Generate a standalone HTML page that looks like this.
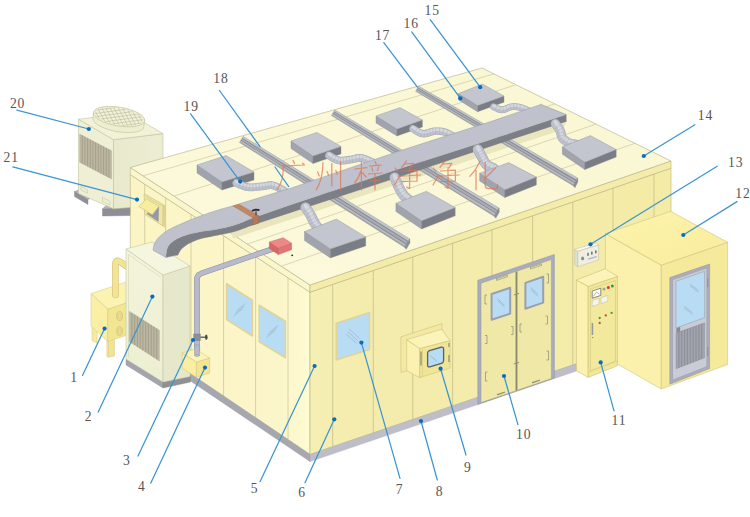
<!DOCTYPE html>
<html><head><meta charset="utf-8"><title>Clean room structure diagram</title>
<style>
html,body{margin:0;padding:0;background:#fff;}
body{width:750px;height:517px;overflow:hidden;font-family:"Liberation Serif",serif;}
svg{display:block;}
</style></head><body>
<svg width="750" height="517" viewBox="0 0 750 517">
<rect x="0" y="0" width="750" height="517" fill="#ffffff"/>
<defs>
<linearGradient id="gLW" x1="0" y1="0" x2="1" y2="0"><stop offset="0" stop-color="#fbf5c6"/><stop offset="0.85" stop-color="#fbf6ca"/><stop offset="1" stop-color="#fffbd2"/></linearGradient>
<linearGradient id="gRW" x1="0" y1="0" x2="1" y2="0"><stop offset="0" stop-color="#f6efb3"/><stop offset="0.15" stop-color="#f3ecad"/><stop offset="1" stop-color="#f4eba6"/></linearGradient>
<linearGradient id="gRoof" x1="0" y1="1" x2="1" y2="0"><stop offset="0" stop-color="#fcfadc"/><stop offset="1" stop-color="#f9f6d2"/></linearGradient>
<linearGradient id="gAT" x1="0" y1="0" x2="1" y2="1"><stop offset="0" stop-color="#fcf3ad"/><stop offset="1" stop-color="#f9ec9b"/></linearGradient>
<linearGradient id="gOUr" x1="0" y1="0" x2="1" y2="0"><stop offset="0" stop-color="#e8eacd"/><stop offset="1" stop-color="#ecedd2"/></linearGradient>
<linearGradient id="gCab" x1="0" y1="0" x2="0" y2="1"><stop offset="0" stop-color="#f3f4dc"/><stop offset="1" stop-color="#edefd2"/></linearGradient>
</defs>
<polygon points="74.5,191.5 88.0,199.5 88.0,204.5 74.5,196.5" fill="#8f9098" stroke="#80818a" stroke-width="0.4" stroke-linejoin="round" />
<polygon points="74.5,191.5 80.0,189.5 93.0,197.0 88.0,199.5" fill="#b3b4bc" stroke="#80818a" stroke-width="0.4" stroke-linejoin="round" />
<polygon points="102.5,209.0 131.0,207.0 131.0,215.5 102.5,216.0" fill="#8d8e96" stroke="#80818a" stroke-width="0.4" stroke-linejoin="round" />
<polygon points="102.5,209.0 106.0,205.5 131.0,204.0 131.0,207.0" fill="#b3b4bc" stroke="#80818a" stroke-width="0.4" stroke-linejoin="round" />
<polygon points="78.5,119.2 113.5,139.7 113.5,208.8 78.5,193.5" fill="#eeefd4" stroke="#c2c29c" stroke-width="0.6" stroke-linejoin="round" />
<polygon points="113.5,139.7 163.0,133.6 163.0,205.0 113.5,208.8" fill="url(#gOUr)" stroke="#c2c29c" stroke-width="0.6" stroke-linejoin="round" />
<polygon points="78.5,119.2 128.0,113.1 163.0,133.6 113.5,139.7" fill="#f1f2d8" stroke="#c2c29c" stroke-width="0.6" stroke-linejoin="round" />
<polygon points="79.6,134.0 111.6,150.8 111.6,179.0 79.6,162.2" fill="#bcb7a2" stroke="#b0ab94" stroke-width="0.4" stroke-linejoin="round" />
<line x1="82.3" y1="135.4" x2="82.3" y2="163.6" stroke="#a6a18b" stroke-width="1.0" />
<line x1="84.9" y1="136.8" x2="84.9" y2="165.0" stroke="#a6a18b" stroke-width="1.0" />
<line x1="87.6" y1="138.2" x2="87.6" y2="166.4" stroke="#a6a18b" stroke-width="1.0" />
<line x1="90.3" y1="139.6" x2="90.3" y2="167.8" stroke="#a6a18b" stroke-width="1.0" />
<line x1="92.9" y1="141.0" x2="92.9" y2="169.2" stroke="#a6a18b" stroke-width="1.0" />
<line x1="95.6" y1="142.4" x2="95.6" y2="170.6" stroke="#a6a18b" stroke-width="1.0" />
<line x1="98.3" y1="143.8" x2="98.3" y2="172.0" stroke="#a6a18b" stroke-width="1.0" />
<line x1="100.9" y1="145.2" x2="100.9" y2="173.4" stroke="#a6a18b" stroke-width="1.0" />
<line x1="103.6" y1="146.6" x2="103.6" y2="174.8" stroke="#a6a18b" stroke-width="1.0" />
<line x1="106.3" y1="148.0" x2="106.3" y2="176.2" stroke="#a6a18b" stroke-width="1.0" />
<line x1="108.9" y1="149.4" x2="108.9" y2="177.6" stroke="#a6a18b" stroke-width="1.0" />
<polygon points="81.0,186.5 87.5,189.7 87.5,193.2 81.0,190.0" fill="#eceed0" stroke="#c2c29c" stroke-width="0.5" stroke-linejoin="round" />
<polygon points="102.5,197.5 110.0,201.2 110.0,205.2 102.5,201.5" fill="#eceed0" stroke="#c2c29c" stroke-width="0.5" stroke-linejoin="round" />
<g transform="rotate(9.4 119 117)">
<path d="M93,116.6 L93.6,123.2 A26,9.4 0 0 0 145,124.2 L145,116.6 Z" fill="#eceed0" stroke="#c2c29c" stroke-width="0.6"/>
<ellipse cx="119" cy="116.6" rx="26" ry="9.4" fill="#f1f2d9" stroke="#c2c29c" stroke-width="0.7"/>
<clipPath id="cpDome"><ellipse cx="119" cy="116.6" rx="24.6" ry="8.4"/></clipPath>
<g clip-path="url(#cpDome)" stroke="#b4b493" stroke-width="0.5" fill="none">
<line x1="53.8" y1="104" x2="73.8" y2="130"/>
<line x1="58.4" y1="104" x2="78.4" y2="130"/>
<line x1="63.0" y1="104" x2="83.0" y2="130"/>
<line x1="67.6" y1="104" x2="87.6" y2="130"/>
<line x1="72.2" y1="104" x2="92.2" y2="130"/>
<line x1="76.8" y1="104" x2="96.8" y2="130"/>
<line x1="81.4" y1="104" x2="101.4" y2="130"/>
<line x1="86.0" y1="104" x2="106.0" y2="130"/>
<line x1="90.6" y1="104" x2="110.6" y2="130"/>
<line x1="95.2" y1="104" x2="115.2" y2="130"/>
<line x1="99.8" y1="104" x2="119.8" y2="130"/>
<line x1="104.4" y1="104" x2="124.4" y2="130"/>
<line x1="109.0" y1="104" x2="129.0" y2="130"/>
<line x1="113.6" y1="104" x2="133.6" y2="130"/>
<line x1="118.2" y1="104" x2="138.2" y2="130"/>
<line x1="122.8" y1="104" x2="142.8" y2="130"/>
<line x1="127.4" y1="104" x2="147.4" y2="130"/>
<line x1="132.0" y1="104" x2="152.0" y2="130"/>
<line x1="136.6" y1="104" x2="156.6" y2="130"/>
<line x1="141.2" y1="104" x2="161.2" y2="130"/>
<line x1="145.8" y1="104" x2="165.8" y2="130"/>
<line x1="150.4" y1="104" x2="170.4" y2="130"/>
<line x1="155.0" y1="104" x2="175.0" y2="130"/>
<line x1="159.6" y1="104" x2="179.6" y2="130"/>
<line x1="164.2" y1="104" x2="184.2" y2="130"/>
<line x1="90" y1="105.8" x2="148" y2="87.8"/>
<line x1="90" y1="109.1" x2="148" y2="91.1"/>
<line x1="90" y1="112.4" x2="148" y2="94.4"/>
<line x1="90" y1="115.7" x2="148" y2="97.7"/>
<line x1="90" y1="119.0" x2="148" y2="101.0"/>
<line x1="90" y1="122.3" x2="148" y2="104.3"/>
<line x1="90" y1="125.6" x2="148" y2="107.6"/>
<line x1="90" y1="128.9" x2="148" y2="110.9"/>
<line x1="90" y1="132.2" x2="148" y2="114.2"/>
<line x1="90" y1="135.5" x2="148" y2="117.5"/>
<line x1="90" y1="138.8" x2="148" y2="120.8"/>
<line x1="90" y1="142.1" x2="148" y2="124.1"/>
<line x1="90" y1="145.4" x2="148" y2="127.4"/>
</g>
</g>
<polygon points="130.3,174.7 310.0,292.2 310.0,454.4 130.3,333.1" fill="url(#gLW)" stroke="#b9b184" stroke-width="0.6" stroke-linejoin="round" />
<polygon points="310.0,292.2 671.0,168.2 671.0,331.7 310.0,454.4" fill="url(#gRW)" stroke="#b9b184" stroke-width="0.6" stroke-linejoin="round" />
<line x1="144.7" y1="184.1" x2="144.7" y2="342.8" stroke="#c9c08f" stroke-width="0.7" />
<line x1="165.6" y1="197.8" x2="165.6" y2="356.9" stroke="#c9c08f" stroke-width="0.7" />
<line x1="191.0" y1="214.4" x2="191.0" y2="374.1" stroke="#c9c08f" stroke-width="0.7" />
<line x1="223.6" y1="235.7" x2="223.6" y2="396.1" stroke="#c9c08f" stroke-width="0.7" />
<line x1="255.6" y1="256.6" x2="255.6" y2="417.7" stroke="#c9c08f" stroke-width="0.7" />
<line x1="288.0" y1="277.8" x2="288.0" y2="439.5" stroke="#c9c08f" stroke-width="0.7" />
<line x1="332.7" y1="284.4" x2="332.7" y2="446.7" stroke="#c3b984" stroke-width="0.7" />
<line x1="373.3" y1="270.5" x2="373.3" y2="432.9" stroke="#c3b984" stroke-width="0.7" />
<line x1="412.8" y1="256.9" x2="412.8" y2="419.4" stroke="#c3b984" stroke-width="0.7" />
<line x1="452.6" y1="243.2" x2="452.6" y2="405.9" stroke="#c3b984" stroke-width="0.7" />
<line x1="492.0" y1="229.7" x2="492.0" y2="392.5" stroke="#c3b984" stroke-width="0.7" />
<line x1="532.6" y1="215.7" x2="532.6" y2="378.7" stroke="#c3b984" stroke-width="0.7" />
<line x1="572.8" y1="201.9" x2="572.8" y2="365.0" stroke="#c3b984" stroke-width="0.7" />
<line x1="613.0" y1="188.1" x2="613.0" y2="351.4" stroke="#c3b984" stroke-width="0.7" />
<line x1="654.0" y1="174.0" x2="654.0" y2="337.4" stroke="#c3b984" stroke-width="0.7" />
<polygon points="186.0,370.7 310.0,454.4 310.0,461.6 186.0,377.9" fill="#a6a7af" stroke="#9a9ba4" stroke-width="0.4" stroke-linejoin="round" />
<polygon points="310.0,454.4 600.0,355.8 600.0,363.0 310.0,461.6" fill="#bdbec8" stroke="#a9aab4" stroke-width="0.4" stroke-linejoin="round" />
<polygon points="130.3,167.5 310.0,285.0 310.0,292.2 130.3,174.7" fill="#fbf7cd" stroke="#b9b184" stroke-width="0.6" stroke-linejoin="round" />
<polygon points="310.0,285.0 671.0,161.0 671.0,168.2 310.0,292.2" fill="#f4eca9" stroke="#b9b184" stroke-width="0.6" stroke-linejoin="round" />
<polygon points="130.3,167.5 482.0,68.0 671.0,161.0 310.0,285.0" fill="url(#gRoof)" stroke="#bdb78f" stroke-width="0.7" stroke-linejoin="round" />
<polygon points="92.0,326.5 97.0,329.5 97.0,343.0 92.0,340.5" fill="#f6eb9f" stroke="#d3c67c" stroke-width="0.5" stroke-linejoin="round" />
<polygon points="108.2,339.5 114.4,338.0 114.4,356.0 108.2,357.2" fill="#f1e592" stroke="#d3c67c" stroke-width="0.5" stroke-linejoin="round" />
<polygon points="106.8,338.6 108.2,339.5 108.2,357.2 106.8,356.4" fill="#f7ec9f" stroke="#d3c67c" stroke-width="0.4" stroke-linejoin="round" />
<polygon points="91.0,293.6 107.8,309.0 107.8,341.5 91.0,326.1" fill="#faefa4" stroke="#d3c67c" stroke-width="0.5" stroke-linejoin="round" />
<polygon points="107.8,309.0 144.8,296.8 144.8,329.3 107.8,341.5" fill="#f3e693" stroke="#d3c67c" stroke-width="0.5" stroke-linejoin="round" />
<polygon points="91.0,293.6 128.0,281.4 144.8,296.8 107.8,309.0" fill="#fbf3b2" stroke="#d3c67c" stroke-width="0.5" stroke-linejoin="round" />
<path d="M115.4,296 L115.4,264.5 Q115.4,259.2 119.6,261.6 L128,267.2" fill="none" stroke="#d3c277" stroke-width="6.6" stroke-linecap="butt" stroke-linejoin="round"/>
<path d="M115.4,296 L115.4,264.5 Q115.4,259.2 119.6,261.6 L128,267.2" fill="none" stroke="#f4e394" stroke-width="5.4" stroke-linecap="butt" stroke-linejoin="round"/>
<ellipse cx="115.5" cy="296.2" rx="3.1" ry="1.5" fill="#f4e394" stroke="#d3c277" stroke-width="0.6"/>
<rect x="113.0" y="293" width="5.0" height="3.4" fill="#f4e394"/>
<ellipse cx="119.6" cy="316.0" rx="2.9" ry="4.6" fill="#ece08f" stroke="#c8bb75" stroke-width="0.6"/>
<ellipse cx="119.6" cy="331.0" rx="2.9" ry="4.6" fill="#ece08f" stroke="#c8bb75" stroke-width="0.6"/>
<ellipse cx="119.6" cy="316.0" rx="1.6" ry="2.8" fill="none" stroke="#cfc27d" stroke-width="0.5"/>
<ellipse cx="119.6" cy="331.0" rx="1.6" ry="2.8" fill="none" stroke="#cfc27d" stroke-width="0.5"/>
<polygon points="126.0,359.0 163.0,382.0 163.0,388.0 126.0,365.0" fill="#a3a4ac" stroke="#92939c" stroke-width="0.4" stroke-linejoin="round" />
<polygon points="163.0,382.0 190.5,376.0 190.5,382.0 163.0,388.0" fill="#8e8f97" stroke="#82838b" stroke-width="0.4" stroke-linejoin="round" />
<polygon points="126.0,249.0 163.0,275.0 163.0,382.0 126.0,359.0" fill="url(#gCab)" stroke="#c6c7a2" stroke-width="0.6" stroke-linejoin="round" />
<polygon points="163.0,275.0 190.0,266.0 190.0,376.5 163.0,382.0" fill="#e6e8cb" stroke="#c6c7a2" stroke-width="0.6" stroke-linejoin="round" />
<polygon points="126.0,249.0 152.0,242.0 190.0,266.0 163.0,275.0" fill="#f5f6e0" stroke="#c6c7a2" stroke-width="0.6" stroke-linejoin="round" />
<polyline points="128.5,357.0 128.5,254.5 160.5,277.0" fill="none" stroke="#d3d4b2" stroke-width="0.6" stroke-linecap="round" stroke-linejoin="round" />
<polygon points="129.2,311.2 159.4,330.2 159.4,361.0 129.2,341.5" fill="#bcb7a2" stroke="#b0ab94" stroke-width="0.4" stroke-linejoin="round" />
<line x1="131.9" y1="312.9" x2="131.9" y2="343.3" stroke="#a39e88" stroke-width="1.0" />
<line x1="134.7" y1="314.7" x2="134.7" y2="345.0" stroke="#a39e88" stroke-width="1.0" />
<line x1="137.4" y1="316.4" x2="137.4" y2="346.8" stroke="#a39e88" stroke-width="1.0" />
<line x1="140.2" y1="318.1" x2="140.2" y2="348.6" stroke="#a39e88" stroke-width="1.0" />
<line x1="142.9" y1="319.8" x2="142.9" y2="350.4" stroke="#a39e88" stroke-width="1.0" />
<line x1="145.7" y1="321.6" x2="145.7" y2="352.1" stroke="#a39e88" stroke-width="1.0" />
<line x1="148.4" y1="323.3" x2="148.4" y2="353.9" stroke="#a39e88" stroke-width="1.0" />
<line x1="151.2" y1="325.0" x2="151.2" y2="355.7" stroke="#a39e88" stroke-width="1.0" />
<line x1="153.9" y1="326.7" x2="153.9" y2="357.5" stroke="#a39e88" stroke-width="1.0" />
<line x1="156.7" y1="328.5" x2="156.7" y2="359.2" stroke="#a39e88" stroke-width="1.0" />
<line x1="143.0" y1="175.8" x2="494.0" y2="73.9" stroke="#cfc9a2" stroke-width="0.7" />
<line x1="174.0" y1="196.1" x2="516.0" y2="84.7" stroke="#cfc9a2" stroke-width="0.7" />
<line x1="210.0" y1="219.6" x2="555.0" y2="103.9" stroke="#cfc9a2" stroke-width="0.7" />
<line x1="247.4" y1="244.1" x2="596.0" y2="124.1" stroke="#cfc9a2" stroke-width="0.7" />
<line x1="281.3" y1="266.2" x2="635.0" y2="143.3" stroke="#cfc9a2" stroke-width="0.7" />
<polygon points="566.2,121.9 490.0,146.9 400.0,177.1 290.0,213.2 251.4,225.9 231.0,231.5 233.0,238.5 248.4,233.4 287.0,220.7 397.0,184.6 487.0,154.4 563.2,129.4" fill="#e9e5bd" stroke="none" stroke-width="0" stroke-linejoin="round" />
<polygon points="243.2,136.4 409.8,239.0 404.6,247.3 239.5,142.4" fill="#9b9ea5" stroke="#8a8d95" stroke-width="0.4" stroke-linejoin="round" />
<polygon points="243.2,136.4 409.8,239.0 408.5,241.2 242.2,138.0" fill="#c2c4cb" stroke="none" stroke-width="0" stroke-linejoin="round" />
<polygon points="242.2,138.0 408.5,241.2 408.0,242.0 241.9,138.6" fill="#85878e" stroke="none" stroke-width="0" stroke-linejoin="round" />
<polygon points="241.9,138.6 408.0,242.0 406.7,244.0 241.0,140.0" fill="#a9abb2" stroke="none" stroke-width="0" stroke-linejoin="round" />
<polygon points="241.0,140.0 406.7,244.0 406.3,244.7 240.7,140.5" fill="#7f8188" stroke="none" stroke-width="0" stroke-linejoin="round" />
<polygon points="240.7,140.5 406.3,244.7 405.3,246.3 239.9,141.7" fill="#b9bbc2" stroke="none" stroke-width="0" stroke-linejoin="round" />
<polygon points="409.8,239.0 410.0,242.8 406.2,249.3 404.6,247.3" fill="#8c8e95" stroke="#74767d" stroke-width="0.3" stroke-linejoin="round" />
<polygon points="334.8,110.0 499.1,208.1 494.2,216.2 331.5,115.5" fill="#9b9ea5" stroke="#8a8d95" stroke-width="0.4" stroke-linejoin="round" />
<polygon points="334.8,110.0 499.1,208.1 497.8,210.2 334.0,111.5" fill="#c2c4cb" stroke="none" stroke-width="0" stroke-linejoin="round" />
<polygon points="334.0,111.5 497.8,210.2 497.3,211.0 333.6,112.0" fill="#85878e" stroke="none" stroke-width="0" stroke-linejoin="round" />
<polygon points="333.6,112.0 497.3,211.0 496.2,213.0 332.8,113.3" fill="#a9abb2" stroke="none" stroke-width="0" stroke-linejoin="round" />
<polygon points="332.8,113.3 496.2,213.0 495.8,213.6 332.6,113.8" fill="#7f8188" stroke="none" stroke-width="0" stroke-linejoin="round" />
<polygon points="332.6,113.8 495.8,213.6 494.8,215.2 331.9,114.9" fill="#b9bbc2" stroke="none" stroke-width="0" stroke-linejoin="round" />
<polygon points="499.1,208.1 499.3,211.9 495.8,218.2 494.2,216.2" fill="#8c8e95" stroke="#74767d" stroke-width="0.3" stroke-linejoin="round" />
<polygon points="418.7,86.2 577.7,178.1 573.3,185.7 415.7,91.3" fill="#9b9ea5" stroke="#8a8d95" stroke-width="0.4" stroke-linejoin="round" />
<polygon points="418.7,86.2 577.7,178.1 576.6,180.1 417.9,87.5" fill="#c2c4cb" stroke="none" stroke-width="0" stroke-linejoin="round" />
<polygon points="417.9,87.5 576.6,180.1 576.1,180.9 417.6,88.0" fill="#85878e" stroke="none" stroke-width="0" stroke-linejoin="round" />
<polygon points="417.6,88.0 576.1,180.9 575.0,182.7 416.9,89.3" fill="#a9abb2" stroke="none" stroke-width="0" stroke-linejoin="round" />
<polygon points="416.9,89.3 575.0,182.7 574.7,183.3 416.7,89.7" fill="#7f8188" stroke="none" stroke-width="0" stroke-linejoin="round" />
<polygon points="416.7,89.7 574.7,183.3 573.8,184.8 416.1,90.7" fill="#b9bbc2" stroke="none" stroke-width="0" stroke-linejoin="round" />
<polygon points="577.7,178.1 577.9,181.9 574.9,187.7 573.3,185.7" fill="#8c8e95" stroke="#74767d" stroke-width="0.3" stroke-linejoin="round" />
<polygon points="197.0,165.0 222.0,182.0 222.0,190.0 197.0,173.0" fill="#a1a3ad" stroke="#8b8e98" stroke-width="0.4" stroke-linejoin="round" />
<polygon points="222.0,182.0 254.0,172.0 254.0,180.0 222.0,190.0" fill="#7b7d85" stroke="#8b8e98" stroke-width="0.4" stroke-linejoin="round" />
<polygon points="197.0,165.0 226.0,155.6 254.0,172.0 222.0,182.0" fill="#c3c5cf" stroke="#8b8e98" stroke-width="0.4" stroke-linejoin="round" />
<polygon points="291.0,141.0 313.0,156.0 313.0,163.5 291.0,148.5" fill="#a1a3ad" stroke="#8b8e98" stroke-width="0.4" stroke-linejoin="round" />
<polygon points="313.0,156.0 341.0,146.4 341.0,153.9 313.0,163.5" fill="#7b7d85" stroke="#8b8e98" stroke-width="0.4" stroke-linejoin="round" />
<polygon points="291.0,141.0 317.0,132.4 341.0,146.4 313.0,156.0" fill="#c3c5cf" stroke="#8b8e98" stroke-width="0.4" stroke-linejoin="round" />
<polygon points="376.0,116.0 397.0,129.0 397.0,136.0 376.0,123.0" fill="#a1a3ad" stroke="#8b8e98" stroke-width="0.4" stroke-linejoin="round" />
<polygon points="397.0,129.0 422.4,120.0 422.4,127.0 397.0,136.0" fill="#7b7d85" stroke="#8b8e98" stroke-width="0.4" stroke-linejoin="round" />
<polygon points="376.0,116.0 400.0,107.6 422.4,120.0 397.0,129.0" fill="#c3c5cf" stroke="#8b8e98" stroke-width="0.4" stroke-linejoin="round" />
<polygon points="458.4,93.6 477.6,105.6 477.6,111.8 458.4,99.8" fill="#a1a3ad" stroke="#8b8e98" stroke-width="0.4" stroke-linejoin="round" />
<polygon points="477.6,105.6 504.0,96.0 504.0,102.2 477.6,111.8" fill="#7b7d85" stroke="#8b8e98" stroke-width="0.4" stroke-linejoin="round" />
<polygon points="458.4,93.6 482.4,84.0 504.0,96.0 477.6,105.6" fill="#c3c5cf" stroke="#8b8e98" stroke-width="0.4" stroke-linejoin="round" />
<polyline points="236.4,183.0 237.3,183.4 238.5,183.9 239.8,184.5 241.4,185.1 243.0,185.8 244.7,186.4 246.4,186.9 248.0,187.2 249.6,187.3 251.2,187.4 252.8,187.3 254.5,187.2 256.2,187.0 257.8,186.8 259.4,186.6 261.0,186.5 262.5,186.3 264.0,186.1 265.5,185.8 266.9,185.6 268.3,185.4 269.7,185.2 271.2,185.2 272.6,185.4 274.1,185.8 275.7,186.4 277.4,187.1 279.0,187.9 280.6,188.7 282.0,189.4 283.1,190.1 284.0,190.5" fill="none" stroke="#a3a6b1" stroke-width="7.8" stroke-linecap="round" stroke-linejoin="round" />
<polyline points="236.4,183.0 237.3,183.4 238.5,183.9 239.8,184.5 241.4,185.1 243.0,185.8 244.7,186.4 246.4,186.9 248.0,187.2 249.6,187.3 251.2,187.4 252.8,187.3 254.5,187.2 256.2,187.0 257.8,186.8 259.4,186.6 261.0,186.5 262.5,186.3 264.0,186.1 265.5,185.8 266.9,185.6 268.3,185.4 269.7,185.2 271.2,185.2 272.6,185.4 274.1,185.8 275.7,186.4 277.4,187.1 279.0,187.9 280.6,188.7 282.0,189.4 283.1,190.1 284.0,190.5" fill="none" stroke="#bec1cc" stroke-width="7" stroke-linecap="round" stroke-linejoin="round" />
<polyline points="236.4,181.6 237.3,182.0 238.5,182.5 239.8,183.1 241.4,183.7 243.0,184.4 244.7,185.0 246.4,185.5 248.0,185.8 249.6,185.9 251.2,186.0 252.8,185.9 254.5,185.8 256.2,185.6 257.8,185.4 259.4,185.2 261.0,185.1 262.5,184.9 264.0,184.7 265.5,184.4 266.9,184.2 268.3,184.0 269.7,183.8 271.2,183.8 272.6,184.0 274.1,184.4 275.7,185.0 277.4,185.7 279.0,186.5 280.6,187.3 282.0,188.0 283.1,188.7 284.0,189.1" fill="none" stroke="#d6d8e0" stroke-width="2.8000000000000003" stroke-linecap="round" stroke-linejoin="round" />
<line x1="238.4" y1="187.7" x2="241.3" y2="181.3" stroke="#a9acb7" stroke-width="0.45" />
<line x1="241.7" y1="189.1" x2="244.3" y2="182.5" stroke="#a9acb7" stroke-width="0.45" />
<line x1="245.4" y1="190.2" x2="247.4" y2="183.5" stroke="#a9acb7" stroke-width="0.45" />
<line x1="249.2" y1="190.8" x2="249.9" y2="183.9" stroke="#a9acb7" stroke-width="0.45" />
<line x1="253.0" y1="190.8" x2="252.7" y2="183.8" stroke="#a9acb7" stroke-width="0.45" />
<line x1="256.5" y1="190.5" x2="255.8" y2="183.5" stroke="#a9acb7" stroke-width="0.45" />
<line x1="259.8" y1="190.1" x2="259.0" y2="183.2" stroke="#a9acb7" stroke-width="0.45" />
<line x1="262.9" y1="189.8" x2="262.1" y2="182.9" stroke="#a9acb7" stroke-width="0.45" />
<line x1="266.1" y1="189.3" x2="264.8" y2="182.4" stroke="#a9acb7" stroke-width="0.45" />
<line x1="268.8" y1="188.8" x2="267.8" y2="181.9" stroke="#a9acb7" stroke-width="0.45" />
<line x1="271.2" y1="188.7" x2="271.2" y2="181.7" stroke="#a9acb7" stroke-width="0.45" />
<line x1="273.3" y1="189.2" x2="275.0" y2="182.4" stroke="#a9acb7" stroke-width="0.45" />
<line x1="276.0" y1="190.3" x2="278.8" y2="183.9" stroke="#a9acb7" stroke-width="0.45" />
<line x1="278.9" y1="191.8" x2="282.2" y2="185.6" stroke="#a9acb7" stroke-width="0.45" />
<line x1="281.5" y1="193.1" x2="284.8" y2="187.0" stroke="#a9acb7" stroke-width="0.45" />
<polyline points="329.0,155.5 329.8,155.9 330.8,156.5 331.9,157.3 333.2,158.1 334.7,158.8 336.1,159.6 337.6,160.1 339.0,160.5 340.4,160.7 341.9,160.7 343.4,160.6 345.0,160.4 346.6,160.2 348.1,159.9 349.6,159.7 351.0,159.5 352.3,159.3 353.6,159.0 354.8,158.7 356.0,158.4 357.2,158.1 358.4,158.0 359.7,157.9 361.0,158.0 362.5,158.3 364.1,158.8 365.9,159.4 367.6,160.2 369.3,160.9 370.8,161.6 372.1,162.1 373.0,162.5" fill="none" stroke="#a3a6b1" stroke-width="7.8" stroke-linecap="round" stroke-linejoin="round" />
<polyline points="329.0,155.5 329.8,155.9 330.8,156.5 331.9,157.3 333.2,158.1 334.7,158.8 336.1,159.6 337.6,160.1 339.0,160.5 340.4,160.7 341.9,160.7 343.4,160.6 345.0,160.4 346.6,160.2 348.1,159.9 349.6,159.7 351.0,159.5 352.3,159.3 353.6,159.0 354.8,158.7 356.0,158.4 357.2,158.1 358.4,158.0 359.7,157.9 361.0,158.0 362.5,158.3 364.1,158.8 365.9,159.4 367.6,160.2 369.3,160.9 370.8,161.6 372.1,162.1 373.0,162.5" fill="none" stroke="#bec1cc" stroke-width="7" stroke-linecap="round" stroke-linejoin="round" />
<polyline points="329.0,154.1 329.8,154.5 330.8,155.1 331.9,155.9 333.2,156.7 334.7,157.4 336.1,158.2 337.6,158.7 339.0,159.1 340.4,159.3 341.9,159.3 343.4,159.2 345.0,159.0 346.6,158.8 348.1,158.5 349.6,158.3 351.0,158.1 352.3,157.9 353.6,157.6 354.8,157.3 356.0,157.0 357.2,156.7 358.4,156.6 359.7,156.5 361.0,156.6 362.5,156.9 364.1,157.4 365.9,158.0 367.6,158.8 369.3,159.5 370.8,160.2 372.1,160.7 373.0,161.1" fill="none" stroke="#d6d8e0" stroke-width="2.8000000000000003" stroke-linecap="round" stroke-linejoin="round" />
<line x1="330.1" y1="160.2" x2="333.8" y2="154.3" stroke="#a9acb7" stroke-width="0.45" />
<line x1="333.0" y1="161.9" x2="336.4" y2="155.8" stroke="#a9acb7" stroke-width="0.45" />
<line x1="336.3" y1="163.4" x2="338.9" y2="156.9" stroke="#a9acb7" stroke-width="0.45" />
<line x1="340.0" y1="164.1" x2="340.8" y2="157.2" stroke="#a9acb7" stroke-width="0.45" />
<line x1="343.7" y1="164.1" x2="343.2" y2="157.1" stroke="#a9acb7" stroke-width="0.45" />
<line x1="347.1" y1="163.6" x2="346.0" y2="156.7" stroke="#a9acb7" stroke-width="0.45" />
<line x1="350.1" y1="163.1" x2="349.0" y2="156.2" stroke="#a9acb7" stroke-width="0.45" />
<line x1="352.9" y1="162.8" x2="351.8" y2="155.8" stroke="#a9acb7" stroke-width="0.45" />
<line x1="356.9" y1="161.8" x2="355.1" y2="155.0" stroke="#a9acb7" stroke-width="0.45" />
<line x1="359.8" y1="161.4" x2="359.5" y2="154.4" stroke="#a9acb7" stroke-width="0.45" />
<line x1="361.8" y1="161.7" x2="363.2" y2="154.9" stroke="#a9acb7" stroke-width="0.45" />
<line x1="364.7" y1="162.7" x2="367.1" y2="156.2" stroke="#a9acb7" stroke-width="0.45" />
<line x1="367.9" y1="164.1" x2="370.7" y2="157.7" stroke="#a9acb7" stroke-width="0.45" />
<line x1="370.6" y1="165.3" x2="373.5" y2="158.9" stroke="#a9acb7" stroke-width="0.45" />
<polyline points="413.0,128.7 413.8,129.1 414.7,129.8 415.9,130.5 417.2,131.4 418.6,132.2 420.1,132.9 421.5,133.4 422.9,133.7 424.3,133.7 425.7,133.5 427.2,133.2 428.6,132.7 430.1,132.2 431.6,131.8 433.0,131.4 434.4,131.2 435.7,131.1 437.0,131.1 438.2,131.1 439.5,131.2 440.7,131.3 441.9,131.5 443.1,131.7 444.3,132.0 445.6,132.4 447.0,133.0 448.4,133.6 449.8,134.3 451.1,135.0 452.3,135.6 453.3,136.1 454.0,136.5" fill="none" stroke="#a3a6b1" stroke-width="7.3999999999999995" stroke-linecap="round" stroke-linejoin="round" />
<polyline points="413.0,128.7 413.8,129.1 414.7,129.8 415.9,130.5 417.2,131.4 418.6,132.2 420.1,132.9 421.5,133.4 422.9,133.7 424.3,133.7 425.7,133.5 427.2,133.2 428.6,132.7 430.1,132.2 431.6,131.8 433.0,131.4 434.4,131.2 435.7,131.1 437.0,131.1 438.2,131.1 439.5,131.2 440.7,131.3 441.9,131.5 443.1,131.7 444.3,132.0 445.6,132.4 447.0,133.0 448.4,133.6 449.8,134.3 451.1,135.0 452.3,135.6 453.3,136.1 454.0,136.5" fill="none" stroke="#bec1cc" stroke-width="6.6" stroke-linecap="round" stroke-linejoin="round" />
<polyline points="413.0,127.4 413.8,127.8 414.7,128.5 415.9,129.2 417.2,130.0 418.6,130.8 420.1,131.5 421.5,132.1 422.9,132.4 424.3,132.4 425.7,132.2 427.2,131.8 428.6,131.4 430.1,130.9 431.6,130.4 433.0,130.1 434.4,129.9 435.7,129.8 437.0,129.8 438.2,129.8 439.5,129.8 440.7,130.0 441.9,130.1 443.1,130.4 444.3,130.7 445.6,131.1 447.0,131.7 448.4,132.3 449.8,133.0 451.1,133.7 452.3,134.3 453.3,134.8 454.0,135.2" fill="none" stroke="#d6d8e0" stroke-width="2.64" stroke-linecap="round" stroke-linejoin="round" />
<line x1="414.1" y1="133.3" x2="417.7" y2="127.8" stroke="#a9acb7" stroke-width="0.45" />
<line x1="417.0" y1="135.0" x2="420.3" y2="129.3" stroke="#a9acb7" stroke-width="0.45" />
<line x1="420.4" y1="136.5" x2="422.7" y2="130.3" stroke="#a9acb7" stroke-width="0.45" />
<line x1="424.2" y1="137.0" x2="424.3" y2="130.4" stroke="#a9acb7" stroke-width="0.45" />
<line x1="427.9" y1="136.4" x2="426.4" y2="130.0" stroke="#a9acb7" stroke-width="0.45" />
<line x1="431.2" y1="135.4" x2="429.1" y2="129.1" stroke="#a9acb7" stroke-width="0.45" />
<line x1="433.8" y1="134.6" x2="432.2" y2="128.2" stroke="#a9acb7" stroke-width="0.45" />
<line x1="435.9" y1="134.4" x2="435.5" y2="127.8" stroke="#a9acb7" stroke-width="0.45" />
<line x1="439.3" y1="134.5" x2="439.6" y2="127.9" stroke="#a9acb7" stroke-width="0.45" />
<line x1="442.4" y1="134.9" x2="443.7" y2="128.5" stroke="#a9acb7" stroke-width="0.45" />
<line x1="445.7" y1="136.0" x2="448.2" y2="129.9" stroke="#a9acb7" stroke-width="0.45" />
<line x1="448.3" y1="137.3" x2="451.2" y2="131.3" stroke="#a9acb7" stroke-width="0.45" />
<line x1="450.7" y1="138.5" x2="453.8" y2="132.7" stroke="#a9acb7" stroke-width="0.45" />
<polyline points="493.6,106.8 494.2,107.1 495.1,107.5 496.1,108.0 497.2,108.5 498.4,109.0 499.6,109.4 500.8,109.7 502.0,109.8 503.2,109.7 504.3,109.4 505.6,109.0 506.8,108.4 508.0,107.9 509.3,107.4 510.4,107.0 511.6,106.8 512.7,106.7 513.8,106.6 514.8,106.6 515.8,106.7 516.9,106.8 517.9,107.0 518.9,107.2 520.0,107.4 521.2,107.7 522.4,108.1 523.7,108.6 525.0,109.1 526.3,109.7 527.4,110.1 528.3,110.5 529.0,110.8" fill="none" stroke="#a3a6b1" stroke-width="6.8" stroke-linecap="round" stroke-linejoin="round" />
<polyline points="493.6,106.8 494.2,107.1 495.1,107.5 496.1,108.0 497.2,108.5 498.4,109.0 499.6,109.4 500.8,109.7 502.0,109.8 503.2,109.7 504.3,109.4 505.6,109.0 506.8,108.4 508.0,107.9 509.3,107.4 510.4,107.0 511.6,106.8 512.7,106.7 513.8,106.6 514.8,106.6 515.8,106.7 516.9,106.8 517.9,107.0 518.9,107.2 520.0,107.4 521.2,107.7 522.4,108.1 523.7,108.6 525.0,109.1 526.3,109.7 527.4,110.1 528.3,110.5 529.0,110.8" fill="none" stroke="#bec1cc" stroke-width="6" stroke-linecap="round" stroke-linejoin="round" />
<polyline points="493.6,105.6 494.2,105.9 495.1,106.3 496.1,106.8 497.2,107.3 498.4,107.8 499.6,108.2 500.8,108.5 502.0,108.6 503.2,108.5 504.3,108.2 505.6,107.8 506.8,107.2 508.0,106.7 509.3,106.2 510.4,105.8 511.6,105.6 512.7,105.5 513.8,105.4 514.8,105.4 515.8,105.5 516.9,105.6 517.9,105.8 518.9,106.0 520.0,106.2 521.2,106.5 522.4,106.9 523.7,107.4 525.0,107.9 526.3,108.5 527.4,108.9 528.3,109.3 529.0,109.6" fill="none" stroke="#d6d8e0" stroke-width="2.4000000000000004" stroke-linecap="round" stroke-linejoin="round" />
<line x1="494.8" y1="110.7" x2="497.4" y2="105.3" stroke="#a9acb7" stroke-width="0.45" />
<line x1="498.6" y1="112.2" x2="500.6" y2="106.6" stroke="#a9acb7" stroke-width="0.45" />
<line x1="503.4" y1="112.7" x2="502.9" y2="106.7" stroke="#a9acb7" stroke-width="0.45" />
<line x1="507.9" y1="111.2" x2="505.7" y2="105.7" stroke="#a9acb7" stroke-width="0.45" />
<line x1="511.4" y1="109.9" x2="509.5" y2="104.2" stroke="#a9acb7" stroke-width="0.45" />
<line x1="513.9" y1="109.6" x2="513.6" y2="103.6" stroke="#a9acb7" stroke-width="0.45" />
<line x1="516.5" y1="109.8" x2="517.2" y2="103.8" stroke="#a9acb7" stroke-width="0.45" />
<line x1="519.4" y1="110.3" x2="520.6" y2="104.5" stroke="#a9acb7" stroke-width="0.45" />
<line x1="522.7" y1="111.4" x2="524.8" y2="105.8" stroke="#a9acb7" stroke-width="0.45" />
<line x1="525.1" y1="112.4" x2="527.4" y2="106.9" stroke="#a9acb7" stroke-width="0.45" />
<line x1="527.9" y1="113.6" x2="530.1" y2="108.0" stroke="#a9acb7" stroke-width="0.45" />
<polygon points="566.2,114.6 490.0,139.8 400.0,168.6 290.0,205.0 251.4,218.4 250.1,218.9 248.4,219.6 246.4,220.5 244.1,221.4 241.7,222.4 239.2,223.4 236.9,224.2 234.6,225.0 232.4,225.7 230.2,226.3 228.0,226.8 225.8,227.4 223.5,227.9 221.3,228.3 219.1,228.8 217.0,229.2 214.9,229.6 212.9,229.9 210.9,230.2 208.9,230.4 206.9,230.7 205.0,230.9 203.0,231.2 201.0,231.6 199.0,232.0 196.9,232.4 194.8,232.9 192.7,233.3 190.6,233.8 188.7,234.3 186.8,234.8 185.0,235.4 183.3,236.0 181.7,236.6 180.2,237.3 178.8,237.9 177.4,238.6 176.1,239.3 174.9,240.1 173.8,240.8 172.8,241.5 171.8,242.3 170.9,243.0 170.1,243.8 169.4,244.6 168.7,245.5 168.1,246.4 167.6,247.4 167.2,248.6 166.8,249.9 166.5,251.3 166.3,252.8 166.1,254.2 166.0,255.5 165.9,256.6 165.8,257.4 177.8,255.0 178.1,254.5 178.4,253.8 178.8,253.0 179.3,252.1 179.8,251.2 180.4,250.3 181.1,249.4 181.8,248.6 182.6,247.9 183.4,247.1 184.4,246.4 185.4,245.7 186.4,245.0 187.5,244.3 188.6,243.6 189.8,243.0 191.0,242.4 192.3,241.8 193.6,241.2 194.9,240.7 196.3,240.1 197.8,239.6 199.3,239.1 201.0,238.6 202.8,238.1 204.6,237.7 206.6,237.3 208.6,236.9 210.7,236.5 212.8,236.1 214.9,235.6 217.0,235.2 219.1,234.8 221.3,234.3 223.5,233.9 225.8,233.5 228.0,233.0 230.2,232.5 232.4,232.0 234.6,231.4 236.9,230.7 239.2,229.9 241.7,229.0 244.1,228.2 246.4,227.3 248.4,226.5 250.1,225.9 251.4,225.4 290.0,212.7 400.0,176.6 490.0,146.4 566.2,121.4" fill="#7d7f87" stroke="none" stroke-width="0" stroke-linejoin="round" />
<polygon points="541.0,104.4 490.0,121.8 400.0,150.8 290.0,188.4 232.2,206.0 231.0,206.3 229.5,206.8 227.6,207.3 225.6,207.9 223.4,208.5 221.2,209.1 219.0,209.8 217.0,210.4 215.0,211.0 213.1,211.7 211.1,212.3 209.1,213.0 207.0,213.7 205.0,214.4 203.0,215.1 201.0,215.8 199.0,216.5 197.0,217.3 195.0,218.1 193.0,218.9 191.0,219.7 189.0,220.5 187.0,221.3 185.0,222.2 183.0,223.1 180.9,224.0 178.7,224.9 176.6,225.8 174.5,226.8 172.5,227.7 170.7,228.7 169.0,229.6 167.5,230.5 166.0,231.4 164.7,232.3 163.5,233.2 162.4,234.2 161.3,235.0 160.3,235.9 159.4,236.8 158.5,237.7 157.8,238.5 157.1,239.3 156.5,240.1 156.0,240.9 155.5,241.8 155.0,242.6 154.6,243.4 154.2,244.3 153.9,245.2 153.7,246.2 153.5,247.2 153.3,248.1 153.2,249.0 153.1,249.7 153.0,250.2 165.8,257.4 165.9,256.6 166.0,255.5 166.1,254.2 166.3,252.8 166.5,251.3 166.8,249.9 167.2,248.6 167.6,247.4 168.1,246.4 168.7,245.5 169.4,244.6 170.1,243.8 170.9,243.0 171.8,242.3 172.8,241.5 173.8,240.8 174.9,240.1 176.1,239.3 177.4,238.6 178.8,237.9 180.2,237.3 181.7,236.6 183.3,236.0 185.0,235.4 186.8,234.8 188.7,234.3 190.6,233.8 192.7,233.3 194.8,232.9 196.9,232.4 199.0,232.0 201.0,231.6 203.0,231.2 205.0,230.9 206.9,230.7 208.9,230.4 210.9,230.2 212.9,229.9 214.9,229.6 217.0,229.2 219.1,228.8 221.3,228.3 223.5,227.9 225.8,227.4 228.0,226.8 230.2,226.3 232.4,225.7 234.6,225.0 236.9,224.2 239.2,223.4 241.7,222.4 244.1,221.4 246.4,220.5 248.4,219.6 250.1,218.9 251.4,218.4 290.0,205.0 400.0,168.6 490.0,139.8 566.2,114.6" fill="#bfc1cc" stroke="none" stroke-width="0" stroke-linejoin="round" />
<polyline points="541.0,104.4 490.0,121.8 400.0,150.8 290.0,188.4 232.2,206.0 231.0,206.3 229.5,206.8 227.6,207.3 225.6,207.9 223.4,208.5 221.2,209.1 219.0,209.8 217.0,210.4 215.0,211.0 213.1,211.7 211.1,212.3 209.1,213.0 207.0,213.7 205.0,214.4 203.0,215.1 201.0,215.8 199.0,216.5 197.0,217.3 195.0,218.1 193.0,218.9 191.0,219.7 189.0,220.5 187.0,221.3 185.0,222.2 183.0,223.1 180.9,224.0 178.7,224.9 176.6,225.8 174.5,226.8 172.5,227.7 170.7,228.7 169.0,229.6 167.5,230.5 166.0,231.4 164.7,232.3 163.5,233.2 162.4,234.2 161.3,235.0 160.3,235.9 159.4,236.8 158.5,237.7 157.8,238.5 157.1,239.3 156.5,240.1 156.0,240.9 155.5,241.8 155.0,242.6 154.6,243.4 154.2,244.3 153.9,245.2 153.7,246.2 153.5,247.2 153.3,248.1 153.2,249.0 153.1,249.7 153.0,250.2 165.8,257.4 177.8,255.0" fill="none" stroke="#9699a4" stroke-width="0.5" stroke-linecap="round" stroke-linejoin="round" />
<polyline points="566.2,121.4 490.0,146.4 400.0,176.6 290.0,212.7 251.4,225.4 250.1,225.9 248.4,226.5 246.4,227.3 244.1,228.2 241.7,229.0 239.2,229.9 236.9,230.7 234.6,231.4 232.4,232.0 230.2,232.5 228.0,233.0 225.8,233.5 223.5,233.9 221.3,234.3 219.1,234.8 217.0,235.2 214.9,235.6 212.8,236.1 210.7,236.5 208.6,236.9 206.6,237.3 204.6,237.7 202.8,238.1 201.0,238.6 199.3,239.1 197.8,239.6 196.3,240.1 194.9,240.7 193.6,241.2 192.3,241.8 191.0,242.4 189.8,243.0 188.6,243.6 187.5,244.3 186.4,245.0 185.4,245.7 184.4,246.4 183.4,247.1 182.6,247.9 181.8,248.6 181.1,249.4 180.4,250.3 179.8,251.2 179.3,252.1 178.8,253.0 178.4,253.8 178.1,254.5 177.8,255.0" fill="none" stroke="#74777f" stroke-width="0.5" stroke-linecap="round" stroke-linejoin="round" />
<polyline points="566.2,114.6 490.0,139.8 400.0,168.6 290.0,205.0 251.4,218.4 250.1,218.9 248.4,219.6 246.4,220.5 244.1,221.4 241.7,222.4 239.2,223.4 236.9,224.2 234.6,225.0 232.4,225.7 230.2,226.3 228.0,226.8 225.8,227.4 223.5,227.9 221.3,228.3 219.1,228.8 217.0,229.2 214.9,229.6 212.9,229.9 210.9,230.2 208.9,230.4 206.9,230.7 205.0,230.9 203.0,231.2 201.0,231.6 199.0,232.0 196.9,232.4 194.8,232.9 192.7,233.3 190.6,233.8 188.7,234.3 186.8,234.8 185.0,235.4 183.3,236.0 181.7,236.6 180.2,237.3 178.8,237.9 177.4,238.6 176.1,239.3 174.9,240.1 173.8,240.8 172.8,241.5 171.8,242.3 170.9,243.0 170.1,243.8 169.4,244.6 168.7,245.5 168.1,246.4 167.6,247.4 167.2,248.6 166.8,249.9 166.5,251.3 166.3,252.8 166.1,254.2 166.0,255.5 165.9,256.6 165.8,257.4" fill="none" stroke="#a8abb6" stroke-width="0.4" stroke-linecap="round" stroke-linejoin="round" />
<polyline points="541.0,104.4 566.2,114.6 566.2,121.4" fill="none" stroke="#8b8e98" stroke-width="0.5" stroke-linecap="round" stroke-linejoin="round" />
<polyline points="305.5,207.5 305.9,208.1 306.4,208.8 307.1,209.7 307.8,210.8 308.5,211.8 309.2,212.9 309.9,214.0 310.5,215.0 311.0,216.0 311.6,217.0 312.1,218.1 312.5,219.1 313.0,220.1 313.5,221.1 314.0,222.1 314.5,223.0 315.1,223.9 315.7,224.8 316.3,225.7 317.0,226.5 317.6,227.3 318.2,228.0 318.6,228.6 319.0,229.0" fill="none" stroke="#a3a6b1" stroke-width="10.3" stroke-linecap="round" stroke-linejoin="round" />
<polyline points="305.5,207.5 305.9,208.1 306.4,208.8 307.1,209.7 307.8,210.8 308.5,211.8 309.2,212.9 309.9,214.0 310.5,215.0 311.0,216.0 311.6,217.0 312.1,218.1 312.5,219.1 313.0,220.1 313.5,221.1 314.0,222.1 314.5,223.0 315.1,223.9 315.7,224.8 316.3,225.7 317.0,226.5 317.6,227.3 318.2,228.0 318.6,228.6 319.0,229.0" fill="none" stroke="#bec1cc" stroke-width="9.5" stroke-linecap="round" stroke-linejoin="round" />
<polyline points="305.5,205.6 305.9,206.2 306.4,206.9 307.1,207.8 307.8,208.8 308.5,209.9 309.2,211.0 309.9,212.1 310.5,213.1 311.0,214.1 311.6,215.1 312.1,216.2 312.5,217.2 313.0,218.2 313.5,219.2 314.0,220.2 314.5,221.1 315.1,222.0 315.7,222.9 316.3,223.8 317.0,224.6 317.6,225.4 318.2,226.1 318.6,226.7 319.0,227.1" fill="none" stroke="#d6d8e0" stroke-width="3.8000000000000003" stroke-linecap="round" stroke-linejoin="round" />
<line x1="303.2" y1="212.5" x2="310.9" y2="207.0" stroke="#a9acb7" stroke-width="0.45" />
<line x1="305.2" y1="215.5" x2="313.2" y2="210.3" stroke="#a9acb7" stroke-width="0.45" />
<line x1="306.9" y1="218.3" x2="315.2" y2="213.7" stroke="#a9acb7" stroke-width="0.45" />
<line x1="308.2" y1="221.1" x2="316.8" y2="217.1" stroke="#a9acb7" stroke-width="0.45" />
<line x1="309.8" y1="224.3" x2="318.2" y2="219.9" stroke="#a9acb7" stroke-width="0.45" />
<line x1="311.8" y1="227.5" x2="319.6" y2="222.1" stroke="#a9acb7" stroke-width="0.45" />
<line x1="313.9" y1="230.2" x2="321.3" y2="224.3" stroke="#a9acb7" stroke-width="0.45" />
<polyline points="394.6,177.5 394.9,178.2 395.3,179.2 395.8,180.3 396.3,181.5 396.9,182.8 397.5,184.2 398.0,185.4 398.6,186.6 399.2,187.7 399.7,188.8 400.3,190.0 400.9,191.1 401.5,192.1 402.1,193.2 402.8,194.1 403.4,195.0 404.1,195.8 404.9,196.6 405.7,197.3 406.5,198.0 407.3,198.6 408.0,199.2 408.6,199.6 409.0,200.0" fill="none" stroke="#a3a6b1" stroke-width="10.3" stroke-linecap="round" stroke-linejoin="round" />
<polyline points="394.6,177.5 394.9,178.2 395.3,179.2 395.8,180.3 396.3,181.5 396.9,182.8 397.5,184.2 398.0,185.4 398.6,186.6 399.2,187.7 399.7,188.8 400.3,190.0 400.9,191.1 401.5,192.1 402.1,193.2 402.8,194.1 403.4,195.0 404.1,195.8 404.9,196.6 405.7,197.3 406.5,198.0 407.3,198.6 408.0,199.2 408.6,199.6 409.0,200.0" fill="none" stroke="#bec1cc" stroke-width="9.5" stroke-linecap="round" stroke-linejoin="round" />
<polyline points="394.6,175.6 394.9,176.3 395.3,177.3 395.8,178.4 396.3,179.6 396.9,180.9 397.5,182.3 398.0,183.5 398.6,184.7 399.2,185.8 399.7,186.9 400.3,188.1 400.9,189.2 401.5,190.2 402.1,191.3 402.8,192.2 403.4,193.1 404.1,193.9 404.9,194.7 405.7,195.4 406.5,196.1 407.3,196.7 408.0,197.3 408.6,197.7 409.0,198.1" fill="none" stroke="#d6d8e0" stroke-width="3.8000000000000003" stroke-linecap="round" stroke-linejoin="round" />
<line x1="391.4" y1="182.1" x2="400.2" y2="178.4" stroke="#a9acb7" stroke-width="0.45" />
<line x1="392.5" y1="184.7" x2="401.2" y2="181.0" stroke="#a9acb7" stroke-width="0.45" />
<line x1="393.7" y1="187.4" x2="402.4" y2="183.5" stroke="#a9acb7" stroke-width="0.45" />
<line x1="395.5" y1="191.0" x2="404.0" y2="186.7" stroke="#a9acb7" stroke-width="0.45" />
<line x1="397.4" y1="194.5" x2="405.6" y2="189.8" stroke="#a9acb7" stroke-width="0.45" />
<line x1="399.6" y1="197.8" x2="407.2" y2="192.2" stroke="#a9acb7" stroke-width="0.45" />
<line x1="402.5" y1="200.9" x2="408.9" y2="193.8" stroke="#a9acb7" stroke-width="0.45" />
<line x1="405.1" y1="202.9" x2="410.9" y2="195.4" stroke="#a9acb7" stroke-width="0.45" />
<polyline points="477.8,149.5 478.2,150.2 478.7,151.0 479.2,152.1 479.9,153.3 480.6,154.5 481.3,155.7 481.9,156.9 482.5,157.9 483.0,158.8 483.5,159.8 483.9,160.7 484.4,161.6 484.8,162.4 485.4,163.2 485.9,164.0 486.6,164.7 487.4,165.3 488.4,165.9 489.5,166.5 490.6,167.0 491.6,167.5 492.6,167.9 493.4,168.2 494.0,168.5" fill="none" stroke="#a3a6b1" stroke-width="10.3" stroke-linecap="round" stroke-linejoin="round" />
<polyline points="477.8,149.5 478.2,150.2 478.7,151.0 479.2,152.1 479.9,153.3 480.6,154.5 481.3,155.7 481.9,156.9 482.5,157.9 483.0,158.8 483.5,159.8 483.9,160.7 484.4,161.6 484.8,162.4 485.4,163.2 485.9,164.0 486.6,164.7 487.4,165.3 488.4,165.9 489.5,166.5 490.6,167.0 491.6,167.5 492.6,167.9 493.4,168.2 494.0,168.5" fill="none" stroke="#bec1cc" stroke-width="9.5" stroke-linecap="round" stroke-linejoin="round" />
<polyline points="477.8,147.6 478.2,148.3 478.7,149.1 479.2,150.2 479.9,151.4 480.6,152.6 481.3,153.8 481.9,155.0 482.5,156.0 483.0,156.9 483.5,157.9 483.9,158.8 484.4,159.7 484.8,160.5 485.4,161.3 485.9,162.1 486.6,162.8 487.4,163.4 488.4,164.0 489.5,164.6 490.6,165.1 491.6,165.6 492.6,166.0 493.4,166.3 494.0,166.6" fill="none" stroke="#d6d8e0" stroke-width="3.8000000000000003" stroke-linecap="round" stroke-linejoin="round" />
<line x1="475.1" y1="154.4" x2="483.4" y2="149.8" stroke="#a9acb7" stroke-width="0.45" />
<line x1="476.4" y1="156.8" x2="484.7" y2="152.2" stroke="#a9acb7" stroke-width="0.45" />
<line x1="477.8" y1="159.2" x2="486.0" y2="154.5" stroke="#a9acb7" stroke-width="0.45" />
<line x1="479.2" y1="161.9" x2="487.7" y2="157.6" stroke="#a9acb7" stroke-width="0.45" />
<line x1="480.7" y1="164.7" x2="489.0" y2="160.2" stroke="#a9acb7" stroke-width="0.45" />
<line x1="483.2" y1="168.0" x2="490.0" y2="161.4" stroke="#a9acb7" stroke-width="0.45" />
<line x1="487.2" y1="170.7" x2="491.7" y2="162.3" stroke="#a9acb7" stroke-width="0.45" />
<line x1="490.8" y1="172.3" x2="494.4" y2="163.5" stroke="#a9acb7" stroke-width="0.45" />
<polyline points="555.4,123.6 555.8,124.2 556.3,124.9 557.0,125.8 557.7,126.8 558.4,127.8 559.1,128.8 559.7,129.9 560.2,130.8 560.6,131.7 560.8,132.7 561.1,133.6 561.2,134.5 561.4,135.5 561.7,136.4 562.0,137.2 562.5,138.0 563.1,138.7 563.8,139.4 564.6,140.1 565.5,140.7 566.4,141.3 567.3,141.9 568.3,142.4 569.2,142.8 570.2,143.2 571.3,143.5 572.4,143.7 573.5,144.0 574.6,144.1 575.6,144.3 576.4,144.4 577.0,144.5" fill="none" stroke="#a3a6b1" stroke-width="9.3" stroke-linecap="round" stroke-linejoin="round" />
<polyline points="555.4,123.6 555.8,124.2 556.3,124.9 557.0,125.8 557.7,126.8 558.4,127.8 559.1,128.8 559.7,129.9 560.2,130.8 560.6,131.7 560.8,132.7 561.1,133.6 561.2,134.5 561.4,135.5 561.7,136.4 562.0,137.2 562.5,138.0 563.1,138.7 563.8,139.4 564.6,140.1 565.5,140.7 566.4,141.3 567.3,141.9 568.3,142.4 569.2,142.8 570.2,143.2 571.3,143.5 572.4,143.7 573.5,144.0 574.6,144.1 575.6,144.3 576.4,144.4 577.0,144.5" fill="none" stroke="#bec1cc" stroke-width="8.5" stroke-linecap="round" stroke-linejoin="round" />
<polyline points="555.4,121.9 555.8,122.5 556.3,123.2 557.0,124.1 557.7,125.1 558.4,126.1 559.1,127.1 559.7,128.2 560.2,129.1 560.6,130.0 560.8,131.0 561.1,131.9 561.2,132.8 561.4,133.8 561.7,134.7 562.0,135.5 562.5,136.3 563.1,137.0 563.8,137.7 564.6,138.4 565.5,139.0 566.4,139.6 567.3,140.2 568.3,140.7 569.2,141.1 570.2,141.5 571.3,141.8 572.4,142.0 573.5,142.3 574.6,142.4 575.6,142.6 576.4,142.7 577.0,142.8" fill="none" stroke="#d6d8e0" stroke-width="3.4000000000000004" stroke-linecap="round" stroke-linejoin="round" />
<line x1="554.2" y1="129.2" x2="561.1" y2="124.3" stroke="#a9acb7" stroke-width="0.45" />
<line x1="556.1" y1="132.1" x2="563.3" y2="127.6" stroke="#a9acb7" stroke-width="0.45" />
<line x1="556.8" y1="133.8" x2="564.9" y2="131.5" stroke="#a9acb7" stroke-width="0.45" />
<line x1="557.3" y1="136.3" x2="565.6" y2="134.6" stroke="#a9acb7" stroke-width="0.45" />
<line x1="558.9" y1="140.2" x2="566.1" y2="135.8" stroke="#a9acb7" stroke-width="0.45" />
<line x1="561.9" y1="143.4" x2="567.4" y2="136.9" stroke="#a9acb7" stroke-width="0.45" />
<line x1="565.2" y1="145.5" x2="569.5" y2="138.2" stroke="#a9acb7" stroke-width="0.45" />
<line x1="568.7" y1="147.1" x2="571.7" y2="139.2" stroke="#a9acb7" stroke-width="0.45" />
<line x1="572.7" y1="148.1" x2="574.3" y2="139.8" stroke="#a9acb7" stroke-width="0.45" />
<line x1="575.8" y1="148.6" x2="577.0" y2="140.2" stroke="#a9acb7" stroke-width="0.45" />
<polygon points="304.5,231.6 330.4,248.9 330.4,257.9 304.5,240.6" fill="#a1a3ad" stroke="#8b8e98" stroke-width="0.4" stroke-linejoin="round" />
<polygon points="330.4,248.9 365.7,236.9 365.7,245.9 330.4,257.9" fill="#7b7d85" stroke="#8b8e98" stroke-width="0.4" stroke-linejoin="round" />
<polygon points="304.5,231.6 336.4,219.1 365.7,236.9 330.4,248.9" fill="#c3c5cf" stroke="#8b8e98" stroke-width="0.4" stroke-linejoin="round" />
<polygon points="395.9,203.3 421.6,220.8 421.6,229.0 395.9,211.5" fill="#a1a3ad" stroke="#8b8e98" stroke-width="0.4" stroke-linejoin="round" />
<polygon points="421.6,220.8 455.2,207.6 455.2,215.8 421.6,229.0" fill="#7b7d85" stroke="#8b8e98" stroke-width="0.4" stroke-linejoin="round" />
<polygon points="395.9,203.3 426.4,191.3 455.2,207.6 421.6,220.8" fill="#c3c5cf" stroke="#8b8e98" stroke-width="0.4" stroke-linejoin="round" />
<polygon points="479.7,173.2 504.8,189.7 504.8,197.5 479.7,181.0" fill="#a1a3ad" stroke="#8b8e98" stroke-width="0.4" stroke-linejoin="round" />
<polygon points="504.8,189.7 536.4,177.1 536.4,184.9 504.8,197.5" fill="#7b7d85" stroke="#8b8e98" stroke-width="0.4" stroke-linejoin="round" />
<polygon points="479.7,173.2 508.7,162.6 536.4,177.1 504.8,189.7" fill="#c3c5cf" stroke="#8b8e98" stroke-width="0.4" stroke-linejoin="round" />
<polygon points="562.4,146.8 584.8,162.2 584.8,169.6 562.4,154.2" fill="#a1a3ad" stroke="#8b8e98" stroke-width="0.4" stroke-linejoin="round" />
<polygon points="584.8,162.2 616.2,149.6 616.2,157.0 584.8,169.6" fill="#7b7d85" stroke="#8b8e98" stroke-width="0.4" stroke-linejoin="round" />
<polygon points="562.4,146.8 590.4,135.6 616.2,149.6 584.8,162.2" fill="#c3c5cf" stroke="#8b8e98" stroke-width="0.4" stroke-linejoin="round" />
<polygon points="232.8,206.0 239.2,204.2 258.6,215.6 252.6,217.8" fill="#c28664" stroke="#a87050" stroke-width="0.3" stroke-linejoin="round" />
<polygon points="252.6,217.8 258.6,215.6 258.6,223.2 252.6,225.2" fill="#b37858" stroke="#9a6244" stroke-width="0.3" stroke-linejoin="round" />
<line x1="256.0" y1="211.3" x2="256.0" y2="215.5" stroke="#3c3c40" stroke-width="1.2" />
<polyline points="252.6,210.6 255.5,209.6 258.8,210.0" fill="none" stroke="#2f2f33" stroke-width="1.8" stroke-linecap="round" stroke-linejoin="round" />
<polyline points="272.5,249.0 202.0,273.1 198.6,274.9 197.0,277.8 197.0,352.0" fill="none" stroke="#8f92a3" stroke-width="5.6" stroke-linecap="round" stroke-linejoin="round" />
<polyline points="272.5,249.0 202.0,273.1 198.6,274.9 197.0,277.8 197.0,352.0" fill="none" stroke="#b7bacb" stroke-width="4.4" stroke-linecap="round" stroke-linejoin="round" />
<polygon points="269.3,242.0 278.4,248.0 278.4,254.6 269.3,248.6" fill="#d96666" stroke="#c05a5a" stroke-width="0.4" stroke-linejoin="round" />
<polygon points="278.4,248.0 291.6,243.2 291.6,249.8 278.4,254.6" fill="#e27474" stroke="#c05a5a" stroke-width="0.4" stroke-linejoin="round" />
<polygon points="269.3,242.0 283.2,237.7 291.6,243.2 278.4,248.0" fill="#ee8787" stroke="#c05a5a" stroke-width="0.4" stroke-linejoin="round" />
<circle cx="292.2" cy="255.3" r="0.9" fill="#222"/>
<polygon points="144.1,193.6 163.3,204.6 162.9,226.0 144.7,214.2" fill="#efe6a4" stroke="#c9bd7c" stroke-width="0.6" stroke-linejoin="round" />
<polygon points="163.3,204.6 165.0,205.8 164.6,227.3 162.9,226.0" fill="#e2d78e" stroke="#c9bd7c" stroke-width="0.4" stroke-linejoin="round" />
<polygon points="158.7,207.0 158.2,221.5 146.8,213.6" fill="#9599aa" stroke="#7d8090" stroke-width="0.4" stroke-linejoin="round" />
<polygon points="146.5,198.8 158.9,206.3 152.3,214.8 138.9,206.5" fill="#f7ed9e" stroke="#c9bd7c" stroke-width="0.6" stroke-linejoin="round" />
<line x1="145.5" y1="196.2" x2="162.5" y2="206.2" stroke="#c9bd7c" stroke-width="0.5" />
<polygon points="226.6,283.8 252.4,300.2 252.4,336.0 226.6,319.6" fill="#b8dcf4" stroke="#e0d496" stroke-width="1.6" stroke-linejoin="round" />
<line x1="236.8" y1="310.7" x2="245.0" y2="303.9" stroke="#a3bbca" stroke-width="0.9" opacity="0.85" stroke-linecap="round"/>
<line x1="235.4" y1="313.3" x2="243.6" y2="306.5" stroke="#a3bbca" stroke-width="0.9" opacity="0.85" stroke-linecap="round"/>
<line x1="234.0" y1="315.9" x2="242.2" y2="309.1" stroke="#a3bbca" stroke-width="0.9" opacity="0.85" stroke-linecap="round"/>
<polygon points="259.2,305.2 285.4,321.2 285.4,357.8 259.2,341.8" fill="#b8dcf4" stroke="#e0d496" stroke-width="1.6" stroke-linejoin="round" />
<line x1="269.5" y1="332.3" x2="277.9" y2="325.5" stroke="#a3bbca" stroke-width="0.9" opacity="0.85" stroke-linecap="round"/>
<line x1="268.1" y1="334.9" x2="276.5" y2="328.1" stroke="#a3bbca" stroke-width="0.9" opacity="0.85" stroke-linecap="round"/>
<line x1="266.7" y1="337.5" x2="275.1" y2="330.7" stroke="#a3bbca" stroke-width="0.9" opacity="0.85" stroke-linecap="round"/>
<polygon points="193.6,334.0 200.4,334.0 200.4,340.5 193.6,340.5" fill="#8b8e9c" stroke="#73768a" stroke-width="0.4" stroke-linejoin="round" />
<line x1="200.4" y1="337.2" x2="206.0" y2="337.2" stroke="#55565c" stroke-width="1.3" />
<ellipse cx="206.3" cy="337.2" rx="1.3" ry="2.8" fill="#4a4b50"/>
<polygon points="182.2,353.0 196.4,362.0 196.4,377.2 182.2,368.2" fill="#faeea3" stroke="#cfc37f" stroke-width="0.5" stroke-linejoin="round" />
<polygon points="196.4,362.0 209.6,358.0 209.6,373.2 196.4,377.2" fill="#f3e591" stroke="#cfc37f" stroke-width="0.5" stroke-linejoin="round" />
<polygon points="182.2,353.0 195.5,349.0 209.6,358.0 196.4,362.0" fill="#fcf4b4" stroke="#cfc37f" stroke-width="0.5" stroke-linejoin="round" />
<polygon points="194.6,345.0 199.6,345.0 199.6,355.5 194.6,355.5" fill="#b7bacb" stroke="#8f92a3" stroke-width="0.5" stroke-linejoin="round" />
<ellipse cx="197.1" cy="355.5" rx="2.5" ry="1.1" fill="#b7bacb" stroke="#8f92a3" stroke-width="0.4"/>
<polygon points="336.2,323.2 369.6,312.6 369.6,349.4 336.2,360.0" fill="#b8dcf4" stroke="#e0d496" stroke-width="1.6" stroke-linejoin="round" />
<line x1="349.3" y1="329.4" x2="359.3" y2="338.0" stroke="#a3bbca" stroke-width="0.9" opacity="0.85" stroke-linecap="round"/>
<line x1="347.9" y1="332.0" x2="357.9" y2="340.6" stroke="#a3bbca" stroke-width="0.9" opacity="0.85" stroke-linecap="round"/>
<line x1="346.5" y1="334.6" x2="356.5" y2="343.2" stroke="#a3bbca" stroke-width="0.9" opacity="0.85" stroke-linecap="round"/>
<polygon points="400.9,336.8 442.0,323.6 442.0,360.0 400.9,372.5" fill="#f3e9a2" stroke="#cdc17f" stroke-width="0.6" stroke-linejoin="round" />
<polygon points="406.7,339.7 419.7,348.4 419.7,377.6 406.7,370.6" fill="#fbf2b0" stroke="#cdc17f" stroke-width="0.6" stroke-linejoin="round" />
<polygon points="419.7,348.4 450.0,340.6 450.0,368.0 419.7,377.6" fill="#f0e595" stroke="#cdc17f" stroke-width="0.6" stroke-linejoin="round" />
<polygon points="406.7,339.7 441.5,329.2 450.0,340.6 419.7,348.4" fill="#fbf4b8" stroke="#cdc17f" stroke-width="0.6" stroke-linejoin="round" />
<line x1="422.5" y1="349.5" x2="422.5" y2="376.2" stroke="#d6ca86" stroke-width="0.6" />
<path d="M429.4,350.6 L441.4,347.2 Q443.6,346.8 443.6,349 L443.6,360.4 Q443.6,362.6 441.4,363.3 L429.8,366.8 Q427.6,367.4 427.6,365.2 L427.6,353 Q427.6,351.2 429.4,350.6 Z" fill="#b8dcf4" stroke="#596068" stroke-width="1.3"/>
<line x1="430.5" y1="356.0" x2="436.5" y2="361.0" stroke="#9fb6c6" stroke-width="1.0" />
<line x1="421.0" y1="351.5" x2="421.0" y2="365.5" stroke="#7a7b72" stroke-width="1.1" />
<line x1="449.0" y1="343.0" x2="449.0" y2="347.0" stroke="#7a7b72" stroke-width="1.0" />
<line x1="449.0" y1="355.0" x2="449.0" y2="362.0" stroke="#7a7b72" stroke-width="1.0" />
<polygon points="477.8,280.3 554.4,254.5 554.4,377.9 477.8,404.4" fill="#a9acc1" stroke="#8f92a6" stroke-width="0.5" stroke-linejoin="round" />
<polygon points="481.0,283.2 515.7,271.5 515.7,390.9 481.0,402.6" fill="#efe8a6" stroke="#a39e74" stroke-width="0.5" stroke-linejoin="round" />
<polygon points="517.3,271.0 551.4,259.5 551.4,378.6 517.3,390.3" fill="#efe8a6" stroke="#a39e74" stroke-width="0.5" stroke-linejoin="round" />
<line x1="516.5" y1="272.0" x2="516.5" y2="390.2" stroke="#8a8768" stroke-width="1.0" />
<polygon points="491.6,294.0 510.2,287.8 510.2,313.6 491.6,319.8" fill="#b8dcf4" stroke="#9c9fae" stroke-width="2.0" stroke-linejoin="round" />
<line x1="497.4" y1="298.5" x2="504.4" y2="305.5" stroke="#9fb6c6" stroke-width="0.8" />
<line x1="497.4" y1="300.1" x2="504.4" y2="307.1" stroke="#9fb6c6" stroke-width="0.8" />
<polygon points="525.4,282.9 543.2,276.8 543.2,302.6 525.4,308.8" fill="#b8dcf4" stroke="#9c9fae" stroke-width="2.0" stroke-linejoin="round" />
<line x1="530.8" y1="287.4" x2="537.8" y2="294.4" stroke="#9fb6c6" stroke-width="0.8" />
<line x1="530.8" y1="289.1" x2="537.8" y2="296.1" stroke="#9fb6c6" stroke-width="0.8" />
<polyline points="496.5,278.8 507.5,275.2 507.5,276.8 496.5,280.4 496.5,278.8" fill="none" stroke="#8b8a78" stroke-width="0.6" stroke-linecap="round" stroke-linejoin="round" />
<polyline points="530.5,267.4 541.5,263.8 541.5,265.4 530.5,269.0 530.5,267.4" fill="none" stroke="#8b8a78" stroke-width="0.6" stroke-linecap="round" stroke-linejoin="round" />
<polyline points="486.6,295.0 485.0,295.0 485.0,304.0 486.6,304.0" fill="none" stroke="#8b8a78" stroke-width="0.7" stroke-linecap="round" stroke-linejoin="round" />
<polyline points="546.9,274.0 548.5,274.0 548.5,283.0 546.9,283.0" fill="none" stroke="#8b8a78" stroke-width="0.7" stroke-linecap="round" stroke-linejoin="round" />
<polyline points="487.1,372.0 485.5,372.0 485.5,381.0 487.1,381.0" fill="none" stroke="#8b8a78" stroke-width="0.7" stroke-linecap="round" stroke-linejoin="round" />
<polyline points="546.9,351.0 548.5,351.0 548.5,360.0 546.9,360.0" fill="none" stroke="#8b8a78" stroke-width="0.7" stroke-linecap="round" stroke-linejoin="round" />
<polyline points="485.4,335.5 487.0,335.5 487.0,343.5 485.4,343.5" fill="none" stroke="#8b8a78" stroke-width="0.7" stroke-linecap="round" stroke-linejoin="round" />
<polyline points="511.4,326.5 513.0,326.5 513.0,334.5 511.4,334.5" fill="none" stroke="#8b8a78" stroke-width="0.7" stroke-linecap="round" stroke-linejoin="round" />
<polyline points="521.6,324.0 520.0,324.0 520.0,332.0 521.6,332.0" fill="none" stroke="#8b8a78" stroke-width="0.7" stroke-linecap="round" stroke-linejoin="round" />
<polyline points="545.9,316.0 547.5,316.0 547.5,324.0 545.9,324.0" fill="none" stroke="#8b8a78" stroke-width="0.7" stroke-linecap="round" stroke-linejoin="round" />
<line x1="513.8" y1="295.0" x2="519.2" y2="293.4" stroke="#8b8a78" stroke-width="0.9" />
<line x1="513.8" y1="364.0" x2="519.2" y2="362.4" stroke="#8b8a78" stroke-width="0.9" />
<polyline points="497.5,394.6 504.5,392.2" fill="none" stroke="#8b8a78" stroke-width="1.2" stroke-linecap="round" stroke-linejoin="round" />
<polyline points="532.5,382.6 539.5,380.2" fill="none" stroke="#8b8a78" stroke-width="1.2" stroke-linecap="round" stroke-linejoin="round" />
<polygon points="605.4,233.7 661.3,265.2 661.3,389.0 617.4,364.0 605.4,357.0" fill="#fbf1ad" stroke="#cfc47f" stroke-width="0.6" stroke-linejoin="round" />
<polygon points="661.3,265.2 727.6,242.3 727.6,364.5 661.3,389.0" fill="#f5ea9c" stroke="#cfc47f" stroke-width="0.6" stroke-linejoin="round" />
<polygon points="605.4,233.7 670.6,211.3 727.6,242.3 661.3,265.2" fill="url(#gAT)" stroke="#cfc47f" stroke-width="0.6" stroke-linejoin="round" />
<polygon points="669.8,277.6 709.6,264.0 709.6,368.6 669.8,384.2" fill="#abaeb9" stroke="#8d909c" stroke-width="0.5" stroke-linejoin="round" />
<polygon points="672.6,279.8 706.8,268.0 706.8,366.6 672.6,380.0" fill="#c9ccd6" stroke="#9093a0" stroke-width="0.4" stroke-linejoin="round" />
<polygon points="676.0,281.2 704.6,271.4 704.6,317.6 676.0,328.0" fill="#b8dcf4" stroke="#9da0ad" stroke-width="0.6" stroke-linejoin="round" />
<line x1="690.0" y1="284.0" x2="698.5" y2="290.5" stroke="#9fb6c6" stroke-width="0.8" />
<line x1="690.0" y1="285.8" x2="698.5" y2="292.3" stroke="#9fb6c6" stroke-width="0.8" />
<line x1="684.0" y1="306.0" x2="692.5" y2="312.5" stroke="#9fb6c6" stroke-width="0.8" />
<line x1="684.0" y1="307.8" x2="692.5" y2="314.3" stroke="#9fb6c6" stroke-width="0.8" />
<polygon points="676.0,333.0 704.6,322.8 704.6,357.8 676.0,368.8" fill="#a2a4ae" stroke="#888a95" stroke-width="0.4" stroke-linejoin="round" />
<line x1="678.9" y1="332.0" x2="678.9" y2="367.7" stroke="#83858f" stroke-width="0.7" />
<line x1="681.7" y1="331.0" x2="681.7" y2="366.6" stroke="#83858f" stroke-width="0.7" />
<line x1="684.6" y1="329.9" x2="684.6" y2="365.5" stroke="#83858f" stroke-width="0.7" />
<line x1="687.4" y1="328.9" x2="687.4" y2="364.4" stroke="#83858f" stroke-width="0.7" />
<line x1="690.3" y1="327.9" x2="690.3" y2="363.3" stroke="#83858f" stroke-width="0.7" />
<line x1="693.2" y1="326.9" x2="693.2" y2="362.2" stroke="#83858f" stroke-width="0.7" />
<line x1="696.0" y1="325.9" x2="696.0" y2="361.1" stroke="#83858f" stroke-width="0.7" />
<line x1="698.9" y1="324.8" x2="698.9" y2="360.0" stroke="#83858f" stroke-width="0.7" />
<line x1="701.7" y1="323.8" x2="701.7" y2="358.9" stroke="#83858f" stroke-width="0.7" />
<line x1="707.8" y1="278.5" x2="707.8" y2="287.0" stroke="#8c8d84" stroke-width="1.0" />
<line x1="707.8" y1="347.0" x2="707.8" y2="356.0" stroke="#8c8d84" stroke-width="1.0" />
<polygon points="676.5,328.5 680.0,327.3 680.0,331.2 676.5,332.4" fill="#8b8d97" stroke="#70727c" stroke-width="0.3" stroke-linejoin="round" />
<polygon points="574.7,249.3 577.8,251.2 577.8,266.7 574.7,264.8" fill="#dfe0cf" stroke="#bdbda5" stroke-width="0.5" stroke-linejoin="round" />
<polygon points="574.7,249.3 596.0,243.0 598.6,245.0 577.8,251.2" fill="#fbfbf2" stroke="#bdbda5" stroke-width="0.5" stroke-linejoin="round" />
<polygon points="577.8,251.2 598.6,245.0 598.6,259.9 577.8,266.7" fill="#eeefe0" stroke="#bdbda5" stroke-width="0.5" stroke-linejoin="round" />
<ellipse cx="582.6" cy="258.4" rx="1.5" ry="1.9" fill="#8b8c93"/>
<rect x="587.2" y="252.8" width="1.6" height="3.2" rx="0.7" fill="#77786c"/>
<rect x="591.0" y="251.6" width="1.6" height="3.2" rx="0.7" fill="#77786c"/>
<rect x="595.0" y="250.2" width="1.6" height="3.2" rx="0.7" fill="#77786c"/>
<line x1="588.2" y1="259.2" x2="596.7" y2="256.6" stroke="#b5b6c0" stroke-width="1.4" />
<polygon points="576.4,280.0 588.2,286.4 588.2,377.4 576.4,370.7" fill="#fbf2b0" stroke="#cbbf7b" stroke-width="0.6" stroke-linejoin="round" />
<polygon points="588.2,286.4 617.4,276.4 617.4,365.8 588.2,377.4" fill="#f1e797" stroke="#cbbf7b" stroke-width="0.6" stroke-linejoin="round" />
<polygon points="576.4,280.0 605.3,268.8 617.4,276.4 588.2,286.4" fill="#fbf4b6" stroke="#cbbf7b" stroke-width="0.6" stroke-linejoin="round" />
<polygon points="590.5,289.0 615.4,280.6 615.4,361.0 590.5,370.6" fill="#f3e99c" stroke="#d2c682" stroke-width="0.6" stroke-linejoin="round" />
<line x1="588.2" y1="372.4" x2="617.4" y2="361.2" stroke="#d2c682" stroke-width="0.5" />
<polygon points="592.2,291.0 600.8,288.2 600.8,295.4 592.2,298.2" fill="#fdfdf6" stroke="#6d6e72" stroke-width="0.8" stroke-linejoin="round" />
<polyline points="593.6,296.0 596.5,292.0 599.4,294.0" fill="none" stroke="#6d6e72" stroke-width="0.5" stroke-linecap="round" stroke-linejoin="round" />
<circle cx="604.0" cy="289.0" r="1.5" fill="#a2a3a8"/>
<circle cx="608.3" cy="287.4" r="1.5" fill="#d23a32"/>
<circle cx="612.3" cy="285.9" r="1.5" fill="#2f9a43"/>
<polygon points="592.2,300.4 599.0,298.2 599.0,304.2 592.2,306.4" fill="#f4f4ea" stroke="#b9b9a6" stroke-width="0.5" stroke-linejoin="round" />
<polygon points="601.0,297.6 607.8,295.4 607.8,301.4 601.0,303.6" fill="#f4f4ea" stroke="#b9b9a6" stroke-width="0.5" stroke-linejoin="round" />
<circle cx="599.7" cy="318.0" r="1.15" fill="#4a9a3c"/>
<circle cx="605.8" cy="315.4" r="1.15" fill="#c8443a"/>
<circle cx="611.6" cy="312.9" r="1.15" fill="#4a9a3c"/>
<circle cx="599.7" cy="323.0" r="1.15" fill="#a8662e"/>
<line x1="592.4" y1="323.0" x2="592.4" y2="335.0" stroke="#9a9b98" stroke-width="1.6" />
<circle cx="592.6" cy="337.6" r="0.7" fill="#7d7d72"/>
<g fill="none" stroke="#e0714f" stroke-width="1.25" stroke-linecap="round" stroke-linejoin="round" opacity="0.72">
<path d="M293,160.4 L294.6,163.6 M282.2,166.2 L304.4,165 L302.6,163.2 M283.2,166.2 Q283.8,180 277.4,189.5 M323,162.6 Q322.6,180 316.3,189.8 M317.6,171.8 L319.2,176 M327,171.4 L328.6,175.2 M335.8,170.4 L337.4,174.2 M331.8,163.4 L331.8,185.8 M340.6,161.8 L340.6,189.8 M355,169 L367,167.6 M361.4,161.8 L361.4,189.8 M360.8,171 Q359,178 354.6,182.6 M362.6,172.6 L366,177 M375,161.4 L376.2,164 M369.6,166 L380.8,165.2 M371.8,167.6 L372.8,171 M378.6,167 L377.4,170.6 M368.4,174 L382,173 M371,181 L379,180.5 M375,173.6 L375,189.8 M395.0,168 L397.6,171.6 M394.6,185 L399.2,177 M406.4,161 L401.6,167.4 M405.0,164 L413.4,163.4 L410.6,168 M402.0,171 L417.0,170.2 L417.0,181 M398.6,176.2 L420.6,175 M402.0,181.6 L417.0,181 M409.6,167.6 L409.6,188.4 L406.6,187 M433.4,168 L436.0,171.6 M433.0,185 L437.6,177 M444.8,161 L440.0,167.4 M443.4,164 L451.8,163.4 L449.0,168 M440.4,171 L455.4,170.2 L455.4,181 M437.0,176.2 L459.0,175 M440.4,181.6 L455.4,181 M448.0,167.6 L448.0,188.4 L445.0,187 M480,161.4 Q476,170 469.8,176.4 M476,170.4 L476,189.8 M495.4,168 Q490,174 484.6,178.4 M485.2,162 L485.2,185.6 Q485.4,188.6 488.6,188.6 L497,188.6 L497.6,184.4"/>
</g>
<g stroke="#3b95d2" stroke-width="1.25" stroke-linecap="round">
<line x1="82.5" y1="375.4" x2="104.6" y2="328.6"/>
<line x1="98.2" y1="412.0" x2="152.4" y2="296.6"/>
<line x1="138.0" y1="456.1" x2="193.0" y2="340.0"/>
<line x1="150.7" y1="483.2" x2="205.0" y2="367.6"/>
<line x1="260.0" y1="481.7" x2="314.6" y2="366.0"/>
<line x1="305.0" y1="482.7" x2="334.3" y2="419.3"/>
<line x1="400.0" y1="478.3" x2="361.4" y2="342.6"/>
<line x1="437.3" y1="480.0" x2="421.0" y2="421.0"/>
<line x1="466.0" y1="455.0" x2="440.6" y2="368.7"/>
<line x1="518.0" y1="424.8" x2="504.0" y2="376.0"/>
<line x1="614.0" y1="410.9" x2="600.7" y2="362.4"/>
<line x1="737.0" y1="201.6" x2="683.3" y2="235.0"/>
<line x1="717.2" y1="166.2" x2="590.5" y2="244.3"/>
<line x1="694.9" y1="124.7" x2="643.8" y2="156.0"/>
<line x1="430.2" y1="19.6" x2="480.2" y2="87.2"/>
<line x1="411.7" y1="31.9" x2="460.4" y2="98.3"/>
<line x1="383.8" y1="42.6" x2="417.4" y2="87.2"/>
<line x1="219.5" y1="90.5" x2="260.0" y2="146.7"/>
<line x1="275.0" y1="167.0" x2="288.7" y2="186.6"/>
<line x1="190.6" y1="113.8" x2="240.2" y2="181.6"/>
<line x1="16.9" y1="110.1" x2="88.8" y2="129.0"/>
<line x1="12.8" y1="166.8" x2="137.0" y2="199.6"/>
</g>
<g fill="#0a6cbc">
<circle cx="104.6" cy="328.6" r="2.1"/>
<circle cx="152.4" cy="296.6" r="2.1"/>
<circle cx="193.0" cy="340.0" r="2.1"/>
<circle cx="205.0" cy="367.6" r="2.1"/>
<circle cx="314.6" cy="366.0" r="2.1"/>
<circle cx="334.3" cy="419.3" r="2.1"/>
<circle cx="361.4" cy="342.6" r="2.1"/>
<circle cx="421.0" cy="421.0" r="2.1"/>
<circle cx="440.6" cy="368.7" r="2.1"/>
<circle cx="504.0" cy="376.0" r="2.1"/>
<circle cx="600.7" cy="362.4" r="2.1"/>
<circle cx="683.3" cy="235.0" r="2.1"/>
<circle cx="590.5" cy="244.3" r="2.1"/>
<circle cx="643.8" cy="156.0" r="2.1"/>
<circle cx="480.2" cy="87.2" r="2.1"/>
<circle cx="460.4" cy="98.3" r="2.1"/>
<circle cx="240.2" cy="181.6" r="2.1"/>
<circle cx="88.8" cy="129.0" r="2.1"/>
<circle cx="137.0" cy="199.6" r="2.1"/>
</g>
<g font-family="'Liberation Serif', serif" font-size="13.6" fill="#555555" letter-spacing="0.9">
<text x="70.3" y="382.2">1</text>
<text x="84.7" y="421.0">2</text>
<text x="123.1" y="464.8">3</text>
<text x="138.0" y="491.3">4</text>
<text x="250.7" y="492.7">5</text>
<text x="298.3" y="496.7">6</text>
<text x="395.7" y="494.0">7</text>
<text x="435.7" y="496.0">8</text>
<text x="464.0" y="472.3">9</text>
<text x="516.0" y="439.2">10</text>
<text x="611.5" y="425.3">11</text>
<text x="735.2" y="198.1">12</text>
<text x="728.0" y="166.7">13</text>
<text x="697.8" y="120.3">14</text>
<text x="424.5" y="15.3">15</text>
<text x="403.6" y="27.7">16</text>
<text x="374.9" y="40.4">17</text>
<text x="213.3" y="83.4">18</text>
<text x="183.5" y="111.0">19</text>
<text x="9.9" y="108.1">20</text>
<text x="3.6" y="161.9">21</text>
</g>
</svg>
</body></html>
